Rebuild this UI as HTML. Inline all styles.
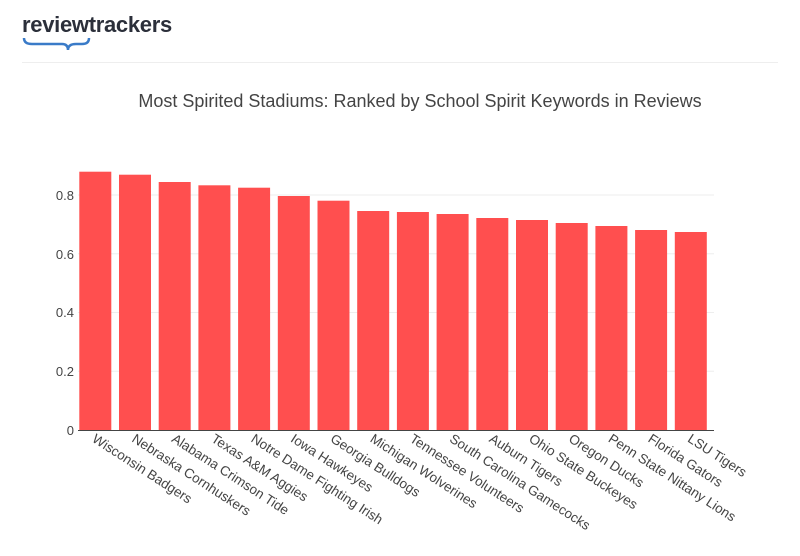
<!DOCTYPE html>
<html><head><style>
body{margin:0;background:#fff;width:800px;height:551px;overflow:hidden;font-family:"Liberation Sans",sans-serif}
</style></head><body>
<svg width="800" height="551" xmlns="http://www.w3.org/2000/svg" font-family="Liberation Sans, sans-serif">
<text x="22" y="32" font-size="22" font-weight="bold" fill="#2b2f3a" letter-spacing="-0.3">reviewtrackers</text>
<path d="M24 38 Q24 44 32 44 L62 44 Q68 44 68 50 Q68 44 76 44 L82 44 Q89 44 89 38" fill="none" stroke="#3a7bc8" stroke-width="2.5"/>
<line x1="22" y1="62.5" x2="778" y2="62.5" stroke="#eee" stroke-width="1"/>
<text x="420" y="107" font-size="18" fill="#444" text-anchor="middle">Most Spirited Stadiums: Ranked by School Spirit Keywords in Reviews</text>
<g stroke="#eee" stroke-width="1">
<line x1="78" x2="714" y1="371.25" y2="371.25"/><line x1="78" x2="714" y1="312.5" y2="312.5"/><line x1="78" x2="714" y1="253.75" y2="253.75"/><line x1="78" x2="714" y1="195" y2="195"/>
</g>
<g font-size="13" fill="#444" text-anchor="end">
<text x="74" y="435">0</text><text x="74" y="376">0.2</text><text x="74" y="317">0.4</text><text x="74" y="259">0.6</text><text x="74" y="200">0.8</text>
</g>
<g fill="#ff4f4f" id="bars"></g>
<line x1="78" x2="714" y1="430.5" y2="430.5" stroke="#444" stroke-width="1"/>
<g id="labels" font-size="13.5" fill="#444"></g>
<script>
var tops=[171.7,174.7,182,185.3,187.7,196,200.7,211,212,214,218,220,223,226,230,232];
var names=["Wisconsin Badgers","Nebraska Cornhuskers","Alabama Crimson Tide","Texas A&M Aggies","Notre Dame Fighting Irish","Iowa Hawkeyes","Georgia Bulldogs","Michigan Wolverines","Tennessee Volunteers","South Carolina Gamecocks","Auburn Tigers","Ohio State Buckeyes","Oregon Ducks","Penn State Nittany Lions","Florida Gators","LSU Tigers"];
var b=document.getElementById('bars'),l=document.getElementById('labels'),ns="http://www.w3.org/2000/svg";
for(var i=0;i<16;i++){var x=79.3+i*39.7;
var r=document.createElementNS(ns,'rect');r.setAttribute('x',x);r.setAttribute('y',tops[i]);r.setAttribute('width',32);r.setAttribute('height',430-tops[i]);b.appendChild(r);
var c=x+12,t=document.createElementNS(ns,'text');t.setAttribute('transform','translate('+c+',441) rotate(33)');t.setAttribute('x',0);t.setAttribute('y',0);
t.textContent=names[i];l.appendChild(t);}
</script>
</svg>
</body></html>
